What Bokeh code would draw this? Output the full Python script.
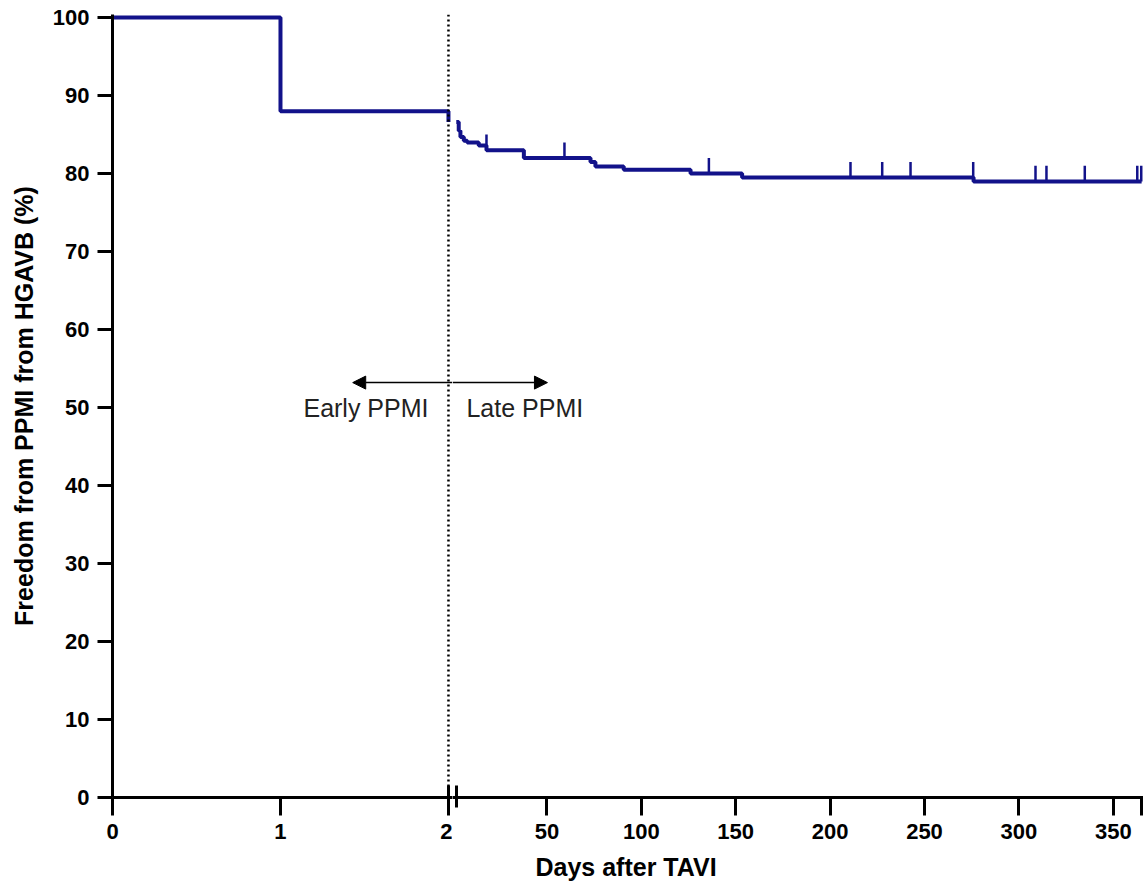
from bokeh.plotting import figure
from bokeh.layouts import row
from bokeh.models import (Range1d, FixedTicker, Span, Arrow, NormalHead, Label, Title)
from bokeh.embed import file_html
from bokeh.resources import INLINE

# ---- data ----
early_days = [0, 1, 2]
early_surv = [100.0, 88.0, 86.6]

late_days = [2.0, 3.3, 4.2, 6.0, 7.8, 13.9, 18.0, 37.8, 73.1, 75.7, 90.7, 126.1, 153.4, 276.0, 365.0]
late_surv = [86.6, 85.5, 84.7, 84.2, 84.0, 83.6, 83.0, 82.0, 81.5, 80.9, 80.5, 80.0, 79.5, 79.0, 79.0]

censor_days = [18.0, 59.3, 135.8, 210.8, 227.6, 242.6, 275.8, 308.8, 314.6, 334.9, 362.7, 364.8]
censor_surv = [83.0, 82.0, 80.0, 79.5, 79.5, 79.5, 79.5, 79.0, 79.0, 79.0, 79.0, 79.0]

y_ticks = [0, 10, 20, 30, 40, 50, 60, 70, 80, 90, 100]
early_ticks = [0, 1, 2]
late_ticks = [50, 100, 150, 200, 250, 300, 350, 365]
break_day = [2]

split_day = 2
arrow_y = 53.2
label_y = 50.0
arrow_left_end = 1.43
arrow_right_end = 50.3

FONT = "Liberation Sans"
CURVE = "#12128a"
CENSOR_H = 2.0

y_range = Range1d(0, 100.4)

# ---- left segment (0..2 days) ----
p1 = figure(frame_width=340, frame_height=783, x_range=Range1d(0, 2.024), y_range=y_range,
            output_backend="svg", toolbar_location=None,
            min_border_left=112, min_border_right=0, min_border_top=14, min_border_bottom=93)
# ---- right segment (2..365 days) ----
p2 = figure(frame_width=691, frame_height=783, x_range=Range1d(0, 366), y_range=y_range,
            output_backend="svg", toolbar_location=None, y_axis_location=None,
            min_border_left=0, min_border_right=0, min_border_top=14, min_border_bottom=93)

for p in (p1, p2):
    p.outline_line_color = None
    p.xgrid.visible = False
    p.ygrid.visible = False
    p.background_fill_color = "white"
    p.border_fill_color = "white"
    ax = p.xaxis[0]
    ax.axis_line_width = 3
    ax.axis_line_color = "black"
    ax.major_tick_line_width = 3
    ax.major_tick_line_color = "black"
    ax.major_tick_out = 18
    ax.major_tick_in = 0
    # minor ticks used as the "||" axis-break marks
    ax.minor_tick_line_color = "black"
    ax.minor_tick_line_width = 3
    ax.minor_tick_in = 12
    ax.minor_tick_out = 10
    ax.major_label_text_font = FONT
    ax.major_label_text_font_style = "bold"
    ax.major_label_text_font_size = "22px"
    ax.major_label_text_color = "black"
    ax.major_label_standoff = 8

p1.xaxis[0].ticker = FixedTicker(ticks=early_ticks, minor_ticks=break_day)
p2.xaxis[0].ticker = FixedTicker(ticks=late_ticks, minor_ticks=break_day)
p2.xaxis[0].major_label_overrides = {365: ""}

ya = p1.yaxis[0]
ya.ticker = FixedTicker(ticks=y_ticks)
ya.axis_line_width = 3
ya.axis_line_color = "black"
ya.major_tick_line_width = 3
ya.major_tick_out = 15
ya.major_tick_in = 0
ya.minor_tick_line_color = None
ya.major_label_text_font = FONT
ya.major_label_text_font_style = "bold"
ya.major_label_text_font_size = "22px"
ya.major_label_text_color = "black"
ya.major_label_standoff = 8
ya.axis_label = "Freedom from PPMI from HGAVB (%)"
ya.axis_label_text_font = FONT
ya.axis_label_text_font_style = "bold"
ya.axis_label_text_font_size = "25px"
ya.axis_label_text_color = "black"
ya.axis_label_standoff = 12

# ---- curves ----
p1.step(early_days, early_surv, mode="after", line_width=4, line_color=CURVE)
p2.step(late_days, late_surv, mode="after", line_width=4, line_color=CURVE)
p2.segment(x0=censor_days, y0=censor_surv, x1=censor_days,
           y1=[s + CENSOR_H for s in censor_surv], line_width=2.5, line_color=CURVE)

# ---- dotted divider at day 2 ----
p1.add_layout(Span(location=split_day, dimension="height", line_color="black",
                   line_width=2.5, line_dash="2 3"))

# ---- early / late arrows and labels ----
p1.add_layout(Arrow(end=NormalHead(size=13, fill_color="black", line_color="black"),
                    x_start=2.024, y_start=arrow_y, x_end=arrow_left_end, y_end=arrow_y,
                    line_width=1.5, line_color="black"))
p2.add_layout(Arrow(end=NormalHead(size=13, fill_color="black", line_color="black"),
                    x_start=0, y_start=arrow_y, x_end=arrow_right_end, y_end=arrow_y,
                    line_width=1.5, line_color="black"))
p1.add_layout(Label(x=1.881, y=label_y, text="Early PPMI", text_align="right",
                    text_baseline="middle", text_font=FONT, text_font_size="25px",
                    text_color="#222222"))
p2.add_layout(Label(x=7.4, y=label_y, text="Late PPMI", text_align="left",
                    text_baseline="middle", text_font=FONT, text_font_size="25px",
                    text_color="#222222"))

# ---- shared x-axis title (centred under the whole broken axis) ----
p2.add_layout(Title(text="Days after TAVI", align="left", offset=83, standoff=18,
                    text_font=FONT, text_font_style="bold", text_font_size="25px",
                    text_color="black"), "below")

layout = row(p1, p2)
open("out.html", "w").write(file_html(layout, INLINE))
